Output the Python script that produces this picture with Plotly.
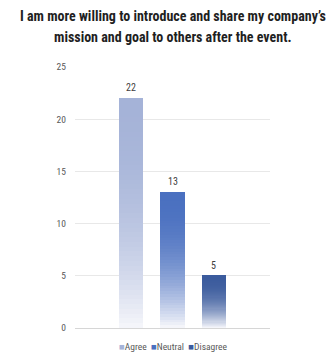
import plotly.graph_objects as go

# Survey responses
categories = ["Agree", "Neutral", "Disagree"]
counts = [22, 13, 5]
top_colors = ["#a5b3d8", "#4a70c0", "#3b5b9d"]
y_ticks = [0, 5, 10, 15, 20, 25]

title_lines = [
    "I am more willing to introduce and share my company’s",
    "mission and goal to others after the event.",
]

FONT = "Roboto Condensed, Roboto, sans-serif"
N_STEPS = 48
BAR_WIDTH = 0.58


def hex_to_rgb(h):
    h = h.lstrip("#")
    return tuple(int(h[i:i + 2], 16) for i in (0, 2, 4))


def blend(c1, c2, t):
    return "rgb({},{},{})".format(*[round(a + (b - a) * t) for a, b in zip(c1, c2)])


fade_to = hex_to_rgb("#f4f5fa")

fig = go.Figure()

# Each bar is built from overlapping slices that lighten toward the baseline
for i, (name, val, col) in enumerate(zip(categories, counts, top_colors)):
    top = hex_to_rgb(col)
    bases, lengths, colors = [], [], []
    for k in range(N_STEPS):
        frac = k / N_STEPS                      # 0 at baseline, 1 at top
        b = val * frac
        bases.append(b)
        lengths.append(val - b)
        depth = 1 - frac                        # 1 at baseline
        colors.append(blend(top, fade_to, depth ** 2.2))
    fig.add_trace(go.Bar(
        x=[i] * N_STEPS, y=lengths, base=bases, width=BAR_WIDTH,
        marker=dict(color=colors, line=dict(width=0)),
        name=name, showlegend=False, hoverinfo="skip",
    ))
    # value label above the bar
    fig.add_annotation(
        x=i, y=val, text=str(val), showarrow=False,
        xanchor="center", yanchor="bottom", yshift=3,
        font=dict(family=FONT, size=10, color="#404040"),
    )

# Two-line heading
for j, (txt, ypos) in enumerate(zip(title_lines, [1.195, 1.115])):
    fig.add_annotation(
        text=txt, xref="paper", yref="paper", x=0.5, y=ypos,
        xanchor="center", yanchor="middle", showarrow=False,
        font=dict(family=FONT, size=14, color="#1f1f1f", weight="bold"),
    )

# Compact legend line
legend_html = "&nbsp;&nbsp;".join(
    f"<span style='color:{c}'>■</span>{n}" for n, c in zip(categories, top_colors)
)
fig.add_annotation(
    text=legend_html, xref="paper", yref="paper", x=0.5, y=-0.069,
    xanchor="center", yanchor="middle", showarrow=False,
    font=dict(family=FONT, size=9.5, color="#595959"),
)

fig.update_layout(
    width=333, height=354,
    margin=dict(l=75, r=63, t=67, b=26),
    paper_bgcolor="white", plot_bgcolor="white",
    barmode="overlay",
    bargap=0,
    xaxis=dict(range=[-1.35, 3.35], showticklabels=False, showgrid=False,
               zeroline=False, fixedrange=True),
    yaxis=dict(range=[0, 25], tickvals=y_ticks, showgrid=True,
               gridcolor="#e8e8e8", gridwidth=1, zeroline=True,
               zerolinecolor="#d6d6d6", zerolinewidth=1,
               ticks="", ticklabelstandoff=8,
               tickfont=dict(family=FONT, size=9.5, color="#595959")),
    showlegend=False,
)

fig.write_html("out.html")
